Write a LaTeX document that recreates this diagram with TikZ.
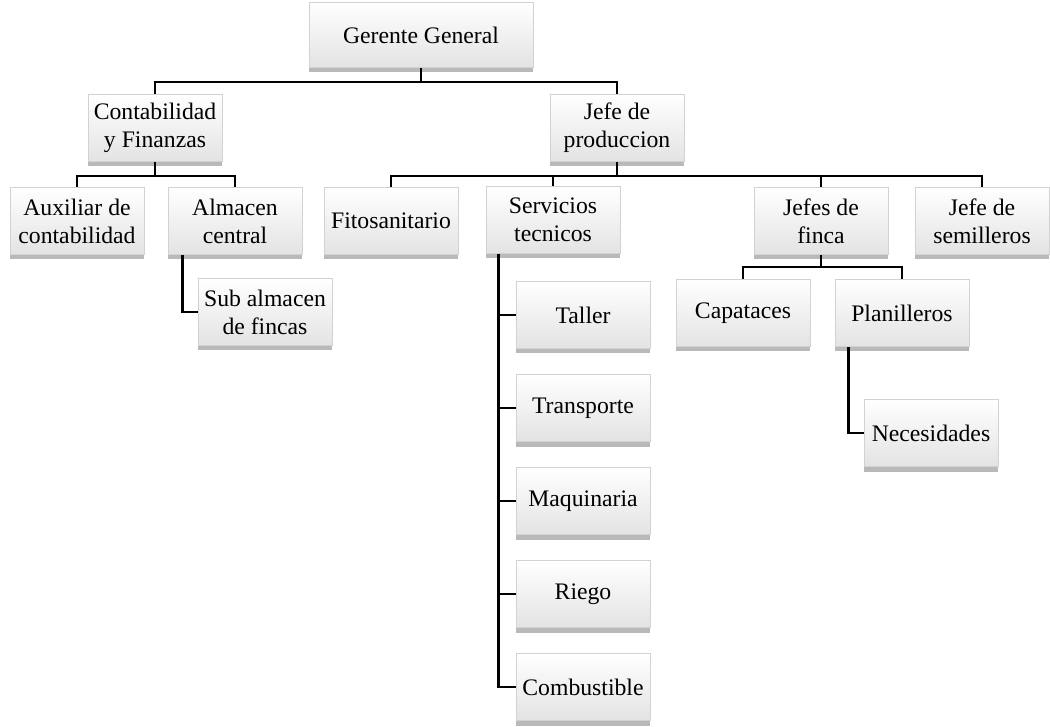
\documentclass[tikz,border=0pt]{standalone}
\usepackage{fontspec}
\setmainfont{Liberation Serif}
\usetikzlibrary{shadows}
\begin{document}
\begin{tikzpicture}[x=0.5pt, y=-0.5pt, thick, main/.style = {draw=gray!35, thin, top color=white, bottom color=gray!22, minimum width=67pt, minimum height=33.5pt, inner sep=1pt, align=center, font=\fontsize{11.85}{14}\selectfont, drop shadow={shadow xshift=0pt, shadow yshift=-2.5pt, fill=black!55, opacity=.5}}, line/.style = {draw=black, line width=1.2pt}]
\useasboundingbox (0,0) rectangle (1050,727);

\node[main, minimum width=112pt, minimum height=32.5pt] (gg) at (421,35) {Gerente General};
\node[main] (cont)   at (155,128) {Contabilidad\\y Finanzas};
\node[main] (prod)   at (617,128) {Jefe de\\produccion};
\node[main] (aux)    at (77,221)  {Auxiliar de\\contabilidad};
\node[main] (alm)    at (235,221) {Almacen\\central};
\node[main] (sub)    at (265,312) {Sub almacen\\de fincas};
\node[main] (fito)   at (391,221) {Fitosanitario};
\node[main] (serv)   at (553,220) {Servicios\\tecnicos};
\node[main] (finca)  at (821,221) {Jefes de\\finca};
\node[main] (semi)   at (982,221) {Jefe de\\semilleros};
\node[main] (capa)   at (743,313) {Capataces};
\node[main] (plan)   at (902,313) {Planilleros};
\node[main] (nec)    at (931,433) {Necesidades};
\node[main] (taller) at (583,315) {Taller};
\node[main] (transp) at (583,408) {Transporte};
\node[main] (maq)    at (583,501) {Maquinaria};
\node[main] (riego)  at (583,594) {Riego};
\node[main] (comb)   at (583,687) {Combustible};

\draw[line] (gg.south) -- ++(0,14) -| (cont.north);
\draw[line] (gg.south) -- ++(0,14) -| (prod.north);
\draw[line] (cont.south) -- ++(0,14) -| (aux.north);
\draw[line] (cont.south) -- ++(0,14) -| (alm.north);
\draw[line] ([xshift=7.5pt]alm.south west) |- (sub.west);
\foreach \n in {fito,serv,finca,semi}
  \draw[line] (prod.south) -- ++(0,14) -| (\n.north);
\foreach \n in {taller,transp,maq,riego,comb}
  \draw[line] ([xshift=6.5pt]serv.south west) |- (\n.west);
\draw[line] (finca.south) -- ++(0,12) -| (capa.north);
\draw[line] (finca.south) -- ++(0,12) -| (plan.north);
\draw[line] ([xshift=7pt]plan.south west) |- (nec.west);

\end{tikzpicture}
\end{document}
